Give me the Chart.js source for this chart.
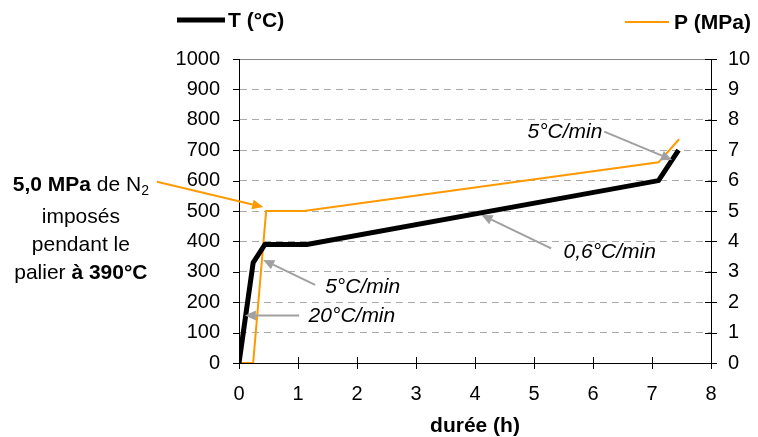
<!DOCTYPE html>
<html>
<head>
<meta charset="utf-8">
<script src="https://cdn.jsdelivr.net/npm/chart.js@4.4.0/dist/chart.umd.min.js"></script>
<style>
  html, body { margin: 0; padding: 0; background: #fff; }
</style>
</head>
<body>
<canvas id="chart" width="758" height="437"></canvas>
<script>
// Température (durée en h, T en °C)
const tempTime = [0, 0.24, 0.44, 1.15, 7.11, 7.45];
const tempValues = [0, 330, 390, 390, 600, 700];

// Pression (durée en h, P en MPa)
const pressTime = [0, 0.24, 0.46, 1.1, 7.11, 7.46];
const pressValues = [0, 0, 5, 5, 6.6, 7.36];

// Annotations (coordonnées en durée / T)
const rateLabels = ['5°C/min', '20°C/min', '0,6°C/min', '5°C/min'];
const ratePos = [[1.46, 250], [1.18, 155], [5.50, 366], [4.89, 760]];
const arrowFrom = [[1.29, 257], [1.02, 156], [5.29, 377], [6.19, 761]];
const arrowTo = [[0.41, 339], [0.10, 156], [4.11, 487], [7.34, 668]];

// Note à gauche
const noteArrowFrom = [-1.39, 596];
const noteArrowTo = [0.41, 513];
const noteX = -2.68;
const noteY = [585, 481, 388, 296];
const noteLines = [
  [{ t: '5,0 MPa', b: true }, { t: ' de N' }, { t: '2', sub: true }],
  [{ t: 'imposés' }],
  [{ t: 'pendant le' }],
  [{ t: 'palier ' }, { t: 'à 390°C', b: true }]
];

const ORANGE = '#ff9900';
const GREY = '#a0a0a0';
const FONT = '"Liberation Sans", Arial, sans-serif';

const toPoints = (xs, ys) => xs.map((x, i) => ({ x: x, y: ys[i] }));

function drawArrow(ctx, x1, y1, x2, y2, color) {
  const ang = Math.atan2(y2 - y1, x2 - x1);
  const len = 11, half = 5;
  ctx.save();
  ctx.strokeStyle = color;
  ctx.fillStyle = color;
  ctx.lineWidth = 2;
  ctx.beginPath();
  ctx.moveTo(x1, y1);
  ctx.lineTo(x2 - Math.cos(ang) * len, y2 - Math.sin(ang) * len);
  ctx.stroke();
  ctx.beginPath();
  ctx.moveTo(x2, y2);
  ctx.lineTo(x2 - Math.cos(ang) * len - Math.sin(ang) * half, y2 - Math.sin(ang) * len + Math.cos(ang) * half);
  ctx.lineTo(x2 - Math.cos(ang) * len + Math.sin(ang) * half, y2 - Math.sin(ang) * len - Math.cos(ang) * half);
  ctx.closePath();
  ctx.fill();
  ctx.restore();
}

// Plugin : légende, graduations croisées et annotations
const extras = {
  id: 'extras',
  afterDraw(chart) {
    const ctx = chart.ctx;
    const xs = chart.scales.x, ys = chart.scales.y, ys2 = chart.scales.y2;
    const area = chart.chartArea;

    ctx.save();
    // ligne du haut pleine
    ctx.strokeStyle = '#888';
    ctx.lineWidth = 1;
    ctx.beginPath();
    ctx.moveTo(area.left, Math.round(ys.getPixelForValue(1000)) + 0.5);
    ctx.lineTo(area.right, Math.round(ys.getPixelForValue(1000)) + 0.5);
    ctx.stroke();

    // graduations
    ctx.strokeStyle = '#000';
    ctx.beginPath();
    ys.ticks.forEach(t => {
      const p = Math.round(ys.getPixelForValue(t.value)) + 0.5;
      ctx.moveTo(area.left - 6, p); ctx.lineTo(area.left + 1, p);
    });
    ys2.ticks.forEach(t => {
      const p = Math.round(ys2.getPixelForValue(t.value)) + 0.5;
      ctx.moveTo(area.right - 6, p); ctx.lineTo(area.right + 6, p);
    });
    xs.ticks.forEach(t => {
      const p = Math.round(xs.getPixelForValue(t.value)) + 0.5;
      ctx.moveTo(p, area.bottom - 6); ctx.lineTo(p, area.bottom + 6);
    });
    ctx.stroke();

    // légende
    const dsT = chart.data.datasets[0], dsP = chart.data.datasets[1];
    ctx.font = 'bold 21px ' + FONT;
    ctx.textBaseline = 'middle';
    ctx.fillStyle = '#000';
    ctx.lineWidth = 5;
    ctx.strokeStyle = dsT.borderColor;
    ctx.beginPath(); ctx.moveTo(177, 20); ctx.lineTo(225, 20); ctx.stroke();
    ctx.fillText(dsT.label, 228, 21);
    ctx.lineWidth = 2;
    ctx.strokeStyle = dsP.borderColor;
    ctx.beginPath(); ctx.moveTo(625, 22); ctx.lineTo(669, 22); ctx.stroke();
    ctx.fillText(dsP.label, 674, 23);

    // flèches et vitesses
    arrowFrom.forEach((f, i) => {
      drawArrow(ctx, xs.getPixelForValue(f[0]), ys.getPixelForValue(f[1]),
        xs.getPixelForValue(arrowTo[i][0]), ys.getPixelForValue(arrowTo[i][1]), GREY);
    });
    ctx.font = 'italic 21px ' + FONT;
    ctx.fillStyle = '#000';
    ctx.textAlign = 'left';
    rateLabels.forEach((txt, i) => {
      ctx.fillText(txt, xs.getPixelForValue(ratePos[i][0]), ys.getPixelForValue(ratePos[i][1]));
    });

    // note à gauche
    drawArrow(ctx, xs.getPixelForValue(noteArrowFrom[0]), ys.getPixelForValue(noteArrowFrom[1]),
      xs.getPixelForValue(noteArrowTo[0]), ys.getPixelForValue(noteArrowTo[1]), ORANGE);
    const cx = xs.getPixelForValue(noteX);
    noteLines.forEach((segs, i) => {
      const y = ys.getPixelForValue(noteY[i]);
      const fontOf = s => s.sub ? '14px ' + FONT : (s.b ? 'bold ' : '') + '21px ' + FONT;
      let w = 0;
      segs.forEach(s => { ctx.font = fontOf(s); w += ctx.measureText(s.t).width; });
      let x = cx - w / 2;
      segs.forEach(s => {
        ctx.font = fontOf(s);
        ctx.fillText(s.t, x, s.sub ? y + 6 : y);
        x += ctx.measureText(s.t).width;
      });
    });
    ctx.restore();
  }
};

new Chart(document.getElementById('chart'), {
  type: 'line',
  data: {
    datasets: [{
      label: 'T (°C)',
      data: toPoints(tempTime, tempValues),
      borderColor: '#000',
      borderWidth: 5,
      pointRadius: 0,
      yAxisID: 'y'
    }, {
      label: 'P (MPa)',
      data: toPoints(pressTime, pressValues),
      borderColor: ORANGE,
      borderWidth: 2,
      pointRadius: 0,
      yAxisID: 'y2'
    }]
  },
  options: {
    responsive: false,
    animation: false,
    layout: { padding: { top: 59, left: 0, right: 0, bottom: 0 } },
    plugins: { legend: { display: false }, tooltip: { enabled: false } },
    scales: {
      x: {
        type: 'linear',
        min: 0, max: 8,
        ticks: { stepSize: 1, color: '#000', font: { family: FONT, size: 20 }, padding: 19, callback: v => String(v) },
        grid: { drawOnChartArea: false, drawTicks: false },
        border: { color: '#000', width: 1 },
        title: { display: true, text: 'durée (h)', color: '#000', font: { family: FONT, size: 21, weight: 'bold', lineHeight: 1 }, padding: 0 },
        afterFit: s => { s.height = 74; }
      },
      y: {
        position: 'left',
        min: 0, max: 1000,
        ticks: { stepSize: 100, color: '#000', font: { family: FONT, size: 20 }, padding: 19, callback: v => String(v) },
        grid: { color: '#aaa', drawTicks: false },
        border: { color: '#000', width: 1, dash: [7, 5] },
        afterFit: s => { s.width = 239; }
      },
      y2: {
        position: 'right',
        min: 0, max: 10,
        ticks: { stepSize: 1, color: '#000', font: { family: FONT, size: 20 }, padding: 17, callback: v => String(v) },
        grid: { drawOnChartArea: false, drawTicks: false },
        border: { color: '#000', width: 1 },
        afterFit: s => { s.width = 47; }
      }
    }
  },
  plugins: [extras]
});
</script>
</body>
</html>
